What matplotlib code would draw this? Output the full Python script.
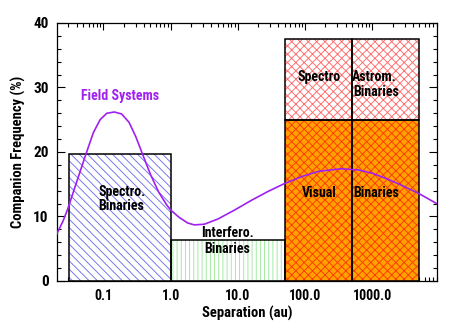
import matplotlib
matplotlib.use("Agg")
import matplotlib.pyplot as plt
from matplotlib import font_manager

available = {f.name for f in font_manager.fontManager.ttflist}
narrow = None
for cand in ['Liberation Sans Narrow', 'Arial Narrow', 'DejaVu Sans Condensed', 'Roboto Condensed']:
    if cand in available:
        narrow = cand
        break
if narrow is not None:
    plt.rcParams['font.family'] = [narrow, 'Liberation Sans', 'DejaVu Sans']
    scale = 1.0
else:
    plt.rcParams['font.family'] = ['Liberation Sans', 'DejaVu Sans']
    scale = 0.85
plt.rcParams['font.weight'] = 'bold'
plt.rcParams['axes.labelweight'] = 'bold'
plt.rcParams['hatch.linewidth'] = 0.65

# ---------------- data ----------------
spectro_range = [0.031, 1.0]
spectro_freq = 19.7
interf_range = [1.0, 50.0]
interf_freq = 6.3
visual_lo = [50.0, 500.0]
visual_hi = [500.0, 5000.0]
visual_freq = [25.0, 25.0]
astrom_freq = [12.5, 12.5]   # stacked on top of visual

field_sep = [0.0196, 0.0251, 0.0295, 0.0398, 0.0550, 0.0708, 0.0891, 0.112,
             0.145, 0.186, 0.240, 0.302, 0.380, 0.501, 0.661, 0.871, 1.0,
             1.32, 1.78, 2.24, 3.16, 5.01, 8.91, 15.8, 28.2, 49.0, 89.1,
             158.0, 347.0, 631.0, 1000.0, 1585.0, 2512.0, 5012.0, 9016.0]
field_freq = [7.0, 9.3, 11.2, 15.3, 19.7, 23.0, 25.0, 26.0,
              26.2, 25.9, 24.6, 22.4, 19.7, 16.5, 13.8, 11.8, 11.0,
              9.9, 9.0, 8.7, 8.8, 9.6, 11.0, 12.5, 13.9, 15.1, 16.2,
              17.0, 17.4, 17.2, 16.7, 15.9, 15.0, 13.5, 12.0]

xticks = [0.1, 1.0, 10.0, 100.0, 1000.0]
xtick_labels = ['0.1', '1.0', '10.0', '100.0', '1000.0']
yticks = [0, 10, 20, 30, 40]

# ---------------- figure ----------------
fig = plt.figure(figsize=(4.58, 3.27), dpi=100)
ax = fig.add_axes([0.1245, 0.1407, 0.829, 0.789])
ax.set_xscale('log')
ax.set_xlim(0.0204, 9016)
ax.set_ylim(0, 40)

edge_lw = 1.1

def hbar(lo, hi, h, bottom, face, hcol, hatch):
    ax.bar(lo, h, width=hi - lo, bottom=bottom, align='edge',
           facecolor=face, edgecolor=hcol, hatch=hatch, linewidth=0, zorder=2)
    ax.bar(lo, h, width=hi - lo, bottom=bottom, align='edge',
           fill=False, edgecolor='black', linewidth=edge_lw, zorder=3)

hbar(spectro_range[0], spectro_range[1], spectro_freq, 0, 'white', '#6f6ff0', '\\\\\\\\')
hbar(interf_range[0], interf_range[1], interf_freq, 0, 'white', '#9ee89e', '||||')
for lo, hi, v, a in zip(visual_lo, visual_hi, visual_freq, astrom_freq):
    hbar(lo, hi, v, 0, '#ffa200', '#ff3a00', 'xxxx')
    hbar(lo, hi, a, v, 'white', '#ff6a6a', 'xxxx')

ax.plot(field_sep, field_freq, color='#a020f0', lw=1.2, zorder=4, clip_on=True)

# texts
fs = 10 * scale
ax.text(0.175, 28.7, 'Field Systems', color='#a020f0', fontsize=fs, ha='center', va='center', zorder=5)
ax.text(0.083, 12.7, 'Spectro.\nBinaries', fontsize=fs, ha='left', va='center', linespacing=0.95, zorder=5)
ax.text(6.9, 7.4, 'Interfero.', fontsize=fs, ha='center', va='center', zorder=5)
ax.text(6.9, 5.0, 'Binaries', fontsize=fs, ha='center', va='center', zorder=5)
ax.text(160, 13.7, 'Visual', fontsize=fs, ha='center', va='center', zorder=5)
ax.text(1120, 13.7, 'Binaries', fontsize=fs, ha='center', va='center', zorder=5)
ax.text(160, 31.7, 'Spectro', fontsize=fs, ha='center', va='center', zorder=5)
ax.text(1050, 31.7, 'Astrom.', fontsize=fs, ha='center', va='center', zorder=5)
ax.text(1150, 29.3, 'Binaries', fontsize=fs, ha='center', va='center', zorder=5)

# axes styling
ax.set_xticks(xticks)
ax.set_xticklabels(xtick_labels)
ax.set_yticks(yticks)
ax.set_yticks(list(range(0, 41, 2)), minor=True)
ax.tick_params(which='both', direction='in', top=True, right=True, width=0.8)
ax.tick_params(axis='x', labelsize=10 * scale)
ax.tick_params(axis='y', labelsize=11 * scale)
ax.tick_params(which='major', length=6, pad=6)
ax.tick_params(which='minor', length=3)
ax.tick_params(axis='x', which='major', length=5)
for s in ax.spines.values():
    s.set_linewidth(0.9)
ax.set_xlabel('Separation (au)', fontsize=10.5 * scale, labelpad=2)
ax.set_ylabel('Companion Frequency (%)', fontsize=10.5 * scale, labelpad=5)

fig.savefig('out.png', dpi=100)
